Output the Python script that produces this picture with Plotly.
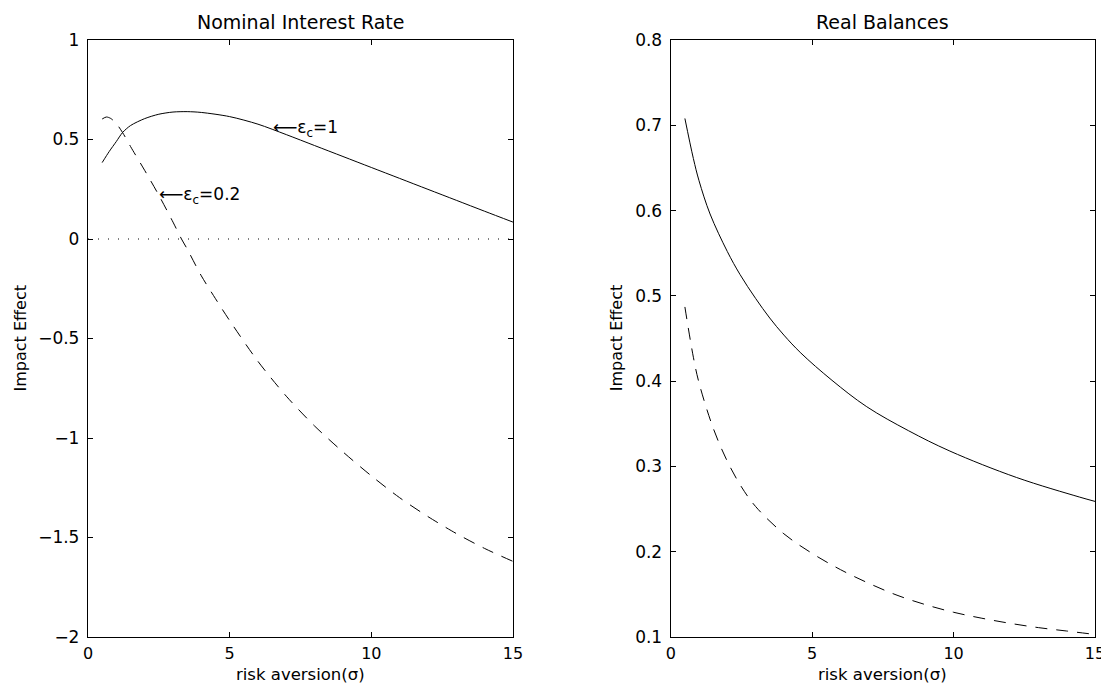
import plotly.graph_objects as go

# ---- data ----
sigma_nom_solid = [0.5, 0.75, 1.0, 1.22, 1.5, 2.0, 2.5, 3.0, 3.5, 4.0, 5.0, 6.0, 7.0, 8.0, 9.0, 10.0, 11.0, 12.0, 13.0, 14.0, 15.0]
nom_solid = [0.384, 0.44, 0.49, 0.535, 0.57, 0.605, 0.627, 0.638, 0.640, 0.636, 0.615, 0.577, 0.5245, 0.4695, 0.4145, 0.3595, 0.3045, 0.2495, 0.1945, 0.1395, 0.085]

sigma_nom_dash = [0.5, 0.65, 0.8, 1.0, 1.22, 1.5, 2.0, 2.5, 3.0, 3.3, 3.5, 4.0, 4.5, 5.0, 6.0, 7.0, 8.0, 9.0, 10.0, 11.0, 12.0, 13.0, 14.0, 15.0]
nom_dash = [0.603, 0.613, 0.606, 0.58, 0.535, 0.465, 0.345, 0.22, 0.085, 0.0, -0.05, -0.185, -0.30, -0.41, -0.615, -0.79, -0.94, -1.07, -1.19, -1.30, -1.395, -1.48, -1.555, -1.62]

sigma_real_solid = [0.5, 0.8, 1.0, 1.39, 2.0, 2.45, 3.0, 3.5, 4.0, 4.6, 5.7, 6.93, 8.4, 9.87, 12.23, 14.46, 15.0]
real_solid = [0.708, 0.661, 0.635, 0.596, 0.552, 0.525, 0.497, 0.474, 0.454, 0.433, 0.401, 0.370, 0.342, 0.318, 0.287, 0.264, 0.259]

sigma_real_dash = [0.5, 0.8, 1.0, 1.5, 2.0, 2.5, 3.0, 4.0, 5.0, 6.0, 7.0, 8.0, 9.0, 10.0, 11.0, 12.0, 13.0, 14.0, 15.0]
real_dash = [0.487, 0.428, 0.398, 0.345, 0.306, 0.276, 0.253, 0.221, 0.198, 0.179, 0.163, 0.149, 0.138, 0.129, 0.122, 0.116, 0.111, 0.107, 0.103]

zero_x = [0, 15]
zero_y = [0, 0]

x_ticks = [0, 5, 10, 15]
nom_yticks = [-2, -1.5, -1, -0.5, 0, 0.5, 1]
real_yticks = [0.1, 0.2, 0.3, 0.4, 0.5, 0.6, 0.7, 0.8]

titles = ["Nominal Interest Rate", "Real Balances"]
xlabel = "risk aversion(σ)"
ylabel = "Impact Effect"

FONT = "DejaVu Sans"
DASH = "12px,9px"

fig = go.Figure()
fig.add_trace(go.Scatter(x=sigma_nom_solid, y=nom_solid, mode="lines", line=dict(color="black", width=1, shape="spline", smoothing=0.8), xaxis="x", yaxis="y"))
fig.add_trace(go.Scatter(x=sigma_nom_dash, y=nom_dash, mode="lines", line=dict(color="black", width=1, dash=DASH, shape="spline", smoothing=0.8), xaxis="x", yaxis="y"))
fig.add_trace(go.Scatter(x=zero_x, y=zero_y, mode="lines", line=dict(color="black", width=1, dash="1px,9px"), xaxis="x", yaxis="y"))
fig.add_trace(go.Scatter(x=sigma_real_solid, y=real_solid, mode="lines", line=dict(color="black", width=1, shape="spline", smoothing=1), xaxis="x2", yaxis="y2"))
fig.add_trace(go.Scatter(x=sigma_real_dash, y=real_dash, mode="lines", line=dict(color="black", width=1, dash=DASH, shape="spline", smoothing=1), xaxis="x2", yaxis="y2"))

axis_common = dict(showgrid=False, zeroline=False, showline=True, linecolor="black", linewidth=1.3,
                   mirror="ticks", ticks="inside", ticklen=5, tickwidth=1, tickcolor="black",
                   automargin=False)
yfont = dict(family=FONT, size=17, color="black")
xfont = dict(family=FONT, size=16, color="black")

dom1 = [0.0, 0.422]
dom2 = [0.5787, 1.0]

# the page body adds an 8px offset, so the figure is 8px smaller and margins shifted
fig.update_layout(
    template="none",
    width=1101, height=676,
    margin=dict(l=80, r=14, t=32, b=47, autoexpand=False),
    paper_bgcolor="white", plot_bgcolor="white",
    showlegend=False,
    font=dict(family=FONT, color="black"),
    xaxis=dict(domain=dom1, range=[0, 15], tickvals=x_ticks, anchor="y", ticklabelstandoff=2, tickfont=xfont, **axis_common),
    yaxis=dict(domain=[0, 1], range=[-2, 1], tickvals=nom_yticks, anchor="x", ticklabelstandoff=4, tickfont=yfont, **axis_common),
    xaxis2=dict(domain=dom2, range=[0, 15], tickvals=x_ticks, anchor="y2", ticklabelstandoff=2, tickfont=xfont, **axis_common),
    yaxis2=dict(domain=[0, 1], range=[0.1, 0.8], tickvals=real_yticks, anchor="x2", ticklabelstandoff=4, tickfont=yfont, **axis_common),
)

for dom, t in zip([dom1, dom2], titles):
    cx = (dom[0] + dom[1]) / 2
    fig.add_annotation(text=t, xref="paper", yref="paper", x=cx, y=1,
                       xanchor="center", yanchor="bottom", yshift=5, showarrow=False,
                       font=dict(family=FONT, size=19, color="black"))
    fig.add_annotation(text=xlabel, xref="paper", yref="paper", x=cx, y=0,
                       xanchor="center", yanchor="top", yshift=-26, showarrow=False,
                       font=dict(family=FONT, size=16.5, color="black"))

fig.add_annotation(text=ylabel, xref="paper", yref="paper", x=dom1[0], y=0.5, textangle=-90,
                   xanchor="center", yanchor="middle", xshift=-68, showarrow=False,
                   font=dict(family=FONT, size=16, color="black"))
fig.add_annotation(text=ylabel, xref="paper", yref="paper", x=dom2[0], y=0.5, textangle=-90,
                   xanchor="center", yanchor="middle", xshift=-54, showarrow=False,
                   font=dict(family=FONT, size=16, color="black"))

fig.add_annotation(text="⟵ε<sub>c</sub>=1", xref="x", yref="y", x=6.45, y=0.56,
                   xanchor="left", yanchor="middle", showarrow=False, yshift=-1,
                   font=dict(family=FONT, size=17, color="black"))
fig.add_annotation(text="⟵ε<sub>c</sub>=0.2", xref="x", yref="y", x=2.45, y=0.226,
                   xanchor="left", yanchor="middle", showarrow=False, yshift=-1,
                   font=dict(family=FONT, size=17, color="black"))

fig.write_html("out.html")
